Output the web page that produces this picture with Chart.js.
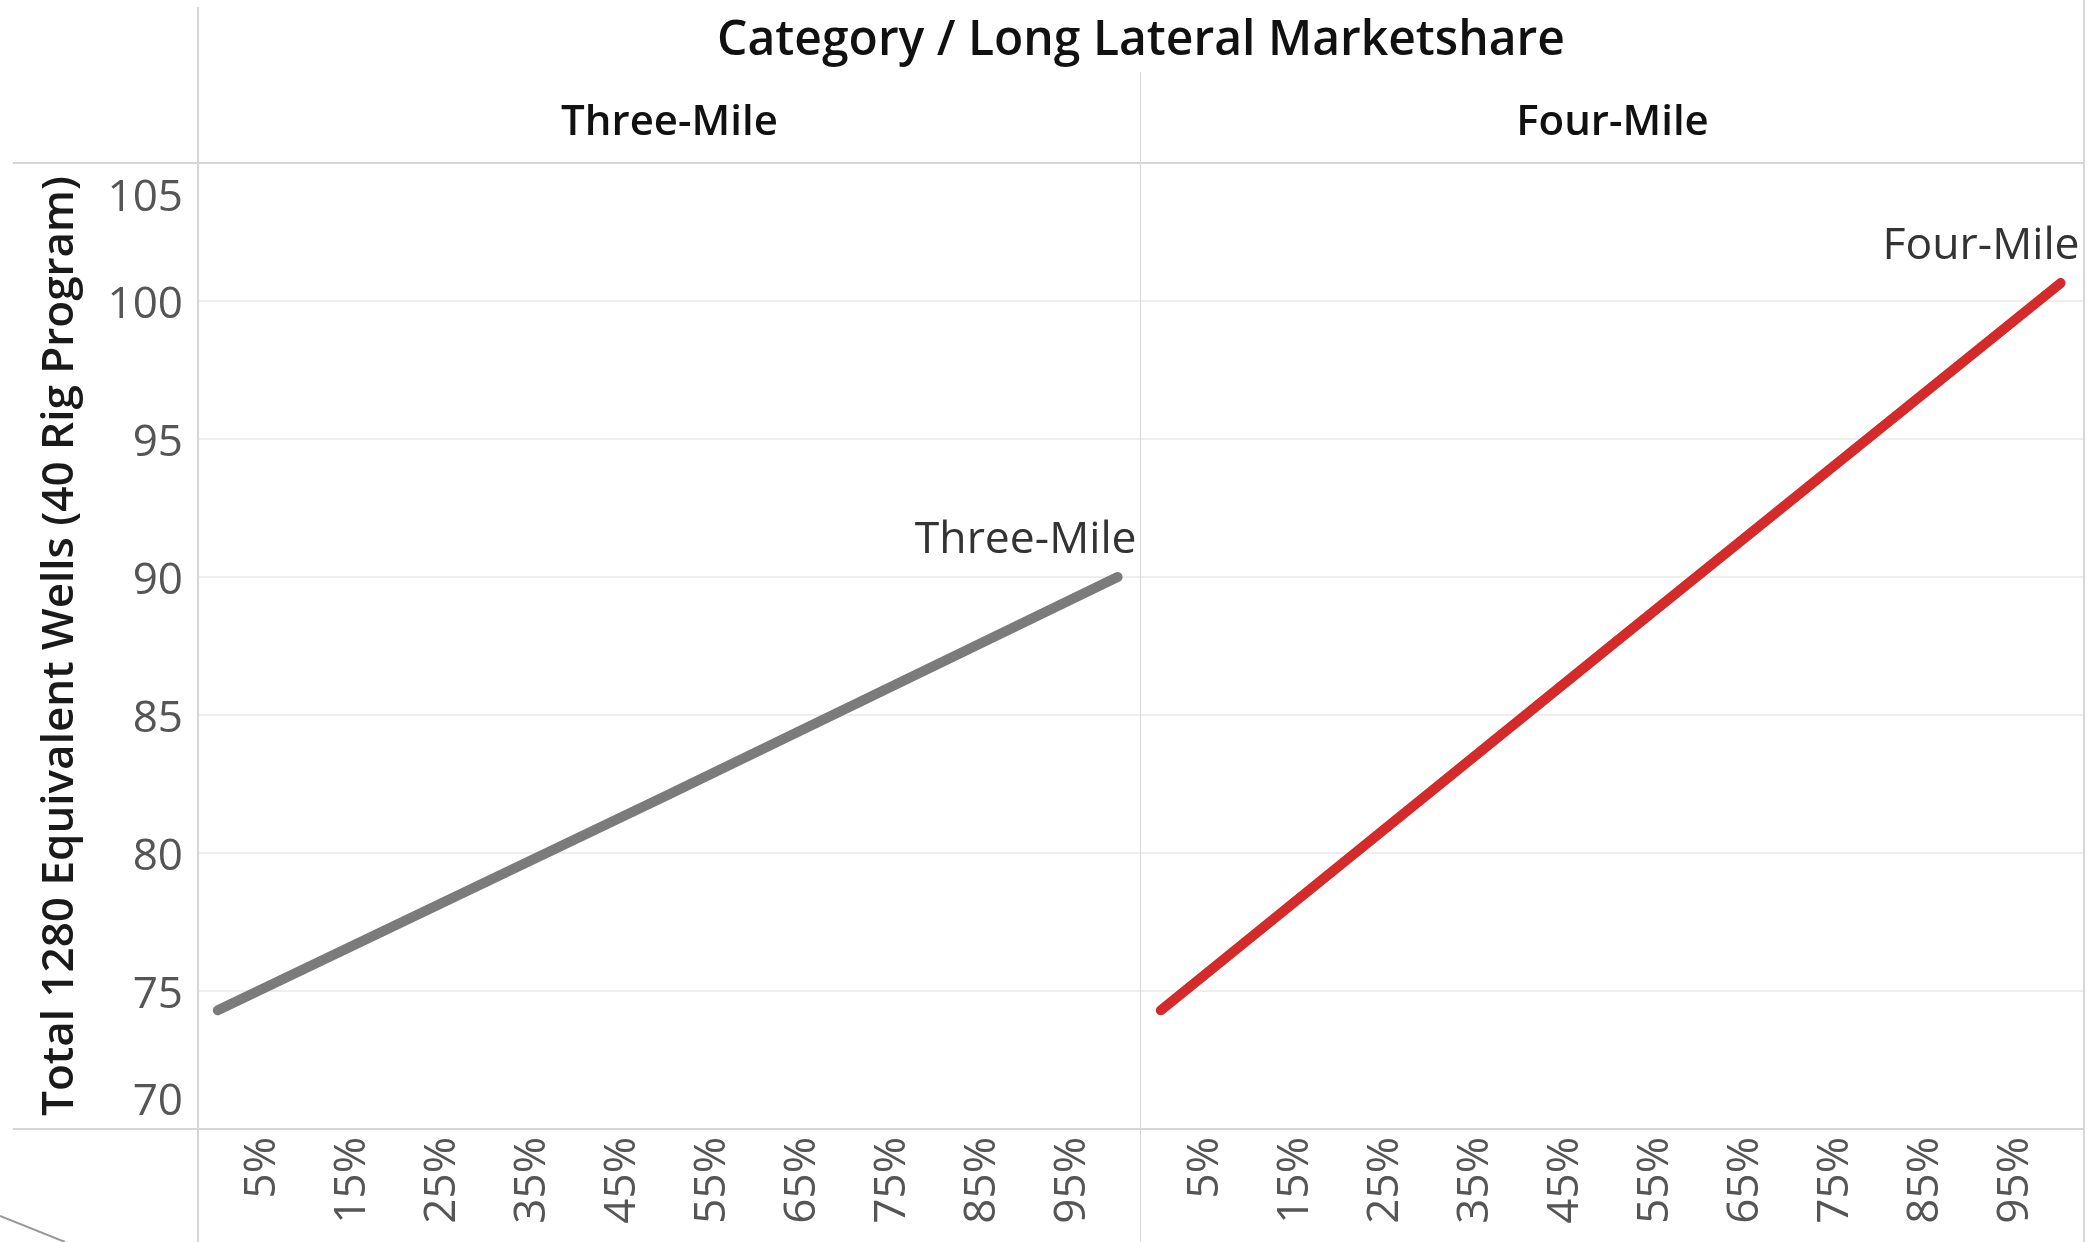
<!DOCTYPE html>
<html>
<head>
<meta charset="utf-8">
<script src="https://cdn.jsdelivr.net/npm/chart.js@4.4.1/dist/chart.umd.min.js"></script>
<style>
  body { margin: 0; background: #fff; width: 2096px; height: 1242px; position: relative; overflow: hidden; font-family: "Open Sans", sans-serif; }
  canvas { position: absolute; top: 0; }
  .hdr { position: absolute; text-align: center; color: #111; font-weight: 600; line-height: 60px; z-index: 2; white-space: nowrap; }
</style>
</head>
<body>
<div class="hdr" style="left:198px; width:1886px; top:7px; font-size:48px;">Category / Long Lateral Marketshare</div>
<div class="hdr" style="left:198px; width:943px; top:89px; font-size:42px;">Three-Mile</div>
<div class="hdr" style="left:1141px; width:943px; top:89px; font-size:42px;">Four-Mile</div>
<canvas id="threeMile" width="1141" height="1242" style="left:0"></canvas>
<canvas id="fourMile" width="955" height="1242" style="left:1141px"></canvas>
<script>
// --- Data ---
const marketshare = [0, 50, 100];            // long lateral marketshare (%)
const threeMileWells = [74.3, 82.1, 90.0];   // total 1280 equivalent wells
const fourMileWells = [74.3, 87.5, 100.65];
const shareTicks = [5, 15, 25, 35, 45, 55, 65, 75, 85, 95];
const wellTicks = [70, 75, 80, 85, 90, 95, 100, 105];

const borderColor = '#d6d6d6';
const tickFont = { family: 'Open Sans', size: 44, weight: '400' };

// y tick labels, kept inside the pane like the original (end labels pulled in)
const wellLabels = {
    id: 'wellLabels',
    afterDraw(chart) {
        const y = chart.scales.y;
        const ctx = chart.ctx;
        ctx.save();
        ctx.font = '400 44px "Open Sans"';
        ctx.fillStyle = '#555';
        ctx.textAlign = 'right';
        ctx.textBaseline = 'middle';
        wellTicks.forEach(v => {
            let py = y.getPixelForValue(v) + 4;
            py = Math.min(Math.max(py, y.top + 35), y.bottom - 27);
            ctx.fillText(String(v), y.right - 15, py);
        });
        ctx.restore();
    }
};

// label at the end of the line
const endLabel = {
    id: 'endLabel',
    afterDatasetsDraw(chart) {
        const meta = chart.getDatasetMeta(0);
        const last = meta.data[meta.data.length - 1];
        const ctx = chart.ctx;
        ctx.save();
        ctx.font = '400 44.5px "Open Sans"';
        ctx.fillStyle = '#333';
        ctx.textAlign = 'right';
        ctx.textBaseline = 'middle';
        ctx.fillText(chart.data.datasets[0].label, last.x + 19, last.y - 37);
        ctx.restore();
    }
};

function line(ctx, x1, y1, x2, y2) {
    ctx.beginPath();
    ctx.moveTo(x1, y1);
    ctx.lineTo(x2, y2);
    ctx.stroke();
}

// pane borders
const leftFrame = {
    id: 'leftFrame',
    afterDraw(chart) {
        const { ctx, chartArea: a, height } = chart;
        ctx.save();
        ctx.strokeStyle = borderColor;
        ctx.lineWidth = 2;
        line(ctx, a.left, 7, a.left, height);
        line(ctx, a.right, 72, a.right, height);
        line(ctx, 13, a.top, a.right, a.top);
        line(ctx, 13, a.bottom, a.right, a.bottom);
        // stray stroke in the bottom-left corner of the original
        ctx.strokeStyle = '#999';
        line(ctx, 0, 1216, 65, 1242);
        ctx.restore();
    }
};

const rightFrame = {
    id: 'rightFrame',
    afterDraw(chart) {
        const { ctx, chartArea: a, height } = chart;
        ctx.save();
        ctx.strokeStyle = borderColor;
        ctx.lineWidth = 2;
        line(ctx, a.right, 0, a.right, height);
        line(ctx, 0, a.top, a.right, a.top);
        line(ctx, 0, a.bottom, a.right, a.bottom);
        ctx.restore();
    }
};

function makeChart(id, label, values, color, showAxis) {
    const ctx = document.getElementById(id).getContext('2d');
    return new Chart(ctx, {
        type: 'line',
        data: {
            datasets: [{
                label: label,
                data: marketshare.map((x, i) => ({ x: x, y: values[i] })),
                borderColor: color,
                borderWidth: 10,
                borderCapStyle: 'round',
                pointRadius: 0,
                tension: 0,
                fill: false
            }]
        },
        options: {
            responsive: false,
            animation: false,
            devicePixelRatio: 1,
            layout: { padding: { top: 163, left: 0, right: showAxis ? 0 : 12, bottom: 0 } },
            scales: {
                x: {
                    type: 'linear',
                    min: -2.2,
                    max: 102.6,
                    afterBuildTicks: scale => { scale.ticks = shareTicks.map(v => ({ value: v })); },
                    afterFit: scale => { scale.height = 113; },
                    grid: { display: false, drawTicks: false },
                    border: { display: false },
                    ticks: {
                        autoSkip: false,
                        minRotation: 90,
                        maxRotation: 90,
                        padding: 8,
                        color: '#555',
                        font: tickFont,
                        callback: v => v + '%'
                    }
                },
                y: {
                    min: 70,
                    max: 105,
                    afterBuildTicks: scale => { scale.ticks = wellTicks.map(v => ({ value: v })); },
                    afterFit: scale => { scale.width = showAxis ? 198 : 0; },
                    grid: { color: '#eeeeee', lineWidth: 2, drawTicks: false },
                    border: { display: false },
                    ticks: { display: false },
                    title: {
                        display: showAxis,
                        text: 'Total 1280 Equivalent Wells (40 Rig Program)',
                        color: '#1a1a1a',
                        font: { family: 'Open Sans', size: 44, weight: '600' },
                        padding: { top: 34, bottom: 0 }
                    }
                }
            },
            plugins: {
                legend: { display: false },
                tooltip: { enabled: false }
            }
        },
        plugins: showAxis ? [wellLabels, endLabel, leftFrame] : [endLabel, rightFrame]
    });
}

makeChart('threeMile', 'Three-Mile', threeMileWells, '#7b7b7b', true);
makeChart('fourMile', 'Four-Mile', fourMileWells, '#d42a2a', false);
</script>
</body>
</html>
